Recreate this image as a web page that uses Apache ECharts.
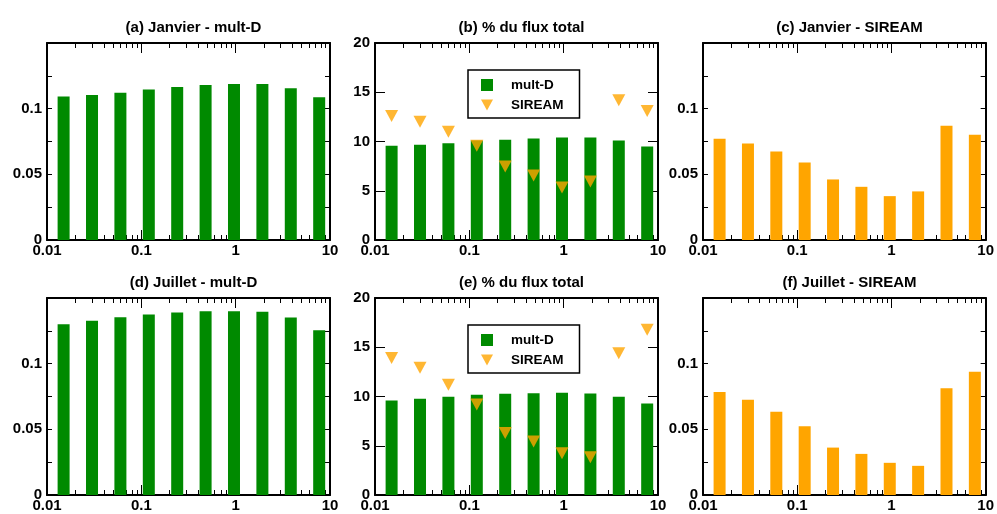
<!DOCTYPE html>
<html>
<head>
<meta charset="utf-8">
<script src="https://cdn.jsdelivr.net/npm/echarts@6/dist/echarts.min.js"></script>
<style>
html,body{margin:0;padding:0;background:#fff;}
#chart{width:997px;height:514px;}
</style>
</head>
<body>
<div id="chart"></div>
<script>
// ---- data ----
const sizes = [0.015, 0.03, 0.06, 0.12, 0.24, 0.48, 0.96, 1.92, 3.84, 7.68];
const xTickLabels = ['0.01', '0.1', '1', '10'];
const minorTickValues = [0.02,0.03,0.04,0.05,0.06,0.07,0.08,0.09,0.2,0.3,0.4,0.5,0.6,0.7,0.8,0.9,2,3,4,5,6,7,8,9];

const panelTitles = ['(a) Janvier - mult-D', '(b) % du flux total', '(c) Janvier - SIREAM',
                     '(d) Juillet - mult-D', '(e) % du flux total', '(f) Juillet - SIREAM'];

const janMultD   = [0.1092, 0.1105, 0.1122, 0.1145, 0.1165, 0.1181, 0.1188, 0.1188, 0.1155, 0.1087];
const janSiream  = [0.0770, 0.0735, 0.0674, 0.0590, 0.0461, 0.0405, 0.0334, 0.0370, 0.0869, 0.0801];
const janPctMultD  = [9.56, 9.66, 9.83, 10.1, 10.17, 10.3, 10.4, 10.4, 10.1, 9.49];
const janPctSiream = [12.6, 12.0, 11.0, 9.56, 7.47, 6.55, 5.34, 5.95, 14.2, 13.1];

const julMultD   = [0.1300, 0.1326, 0.1354, 0.1374, 0.1389, 0.1399, 0.1399, 0.1396, 0.1351, 0.1255];
const julSiream  = [0.0785, 0.0725, 0.0634, 0.0523, 0.0361, 0.0313, 0.0245, 0.0222, 0.0813, 0.0939];
const julPctMultD  = [9.6, 9.76, 9.97, 10.17, 10.27, 10.34, 10.37, 10.3, 9.97, 9.29];
const julPctSiream = [13.9, 12.93, 11.2, 9.19, 6.3, 5.42, 4.24, 3.84, 14.4, 16.77];

const legendNames = ['mult-D', 'SIREAM'];
const fluxTickLabels = ['0', '5', '10', '15', '20'];
const concTickLabels = ['0', '0.05', '0.1'];

// ---- styling ----
const GREEN = '#008a00';
const ORANGE = '#ffa500';
const FONT = "'Liberation Sans', Arial, Helvetica, sans-serif";
const FS = 15;

const colsLeft = [47, 375, 703];
const rowsTop = [43, 298];
const gw = 283, gh = 197;

const grids = [], xAxes = [], yAxes = [], series = [], titles = [];

const pair = (xs, ys) => xs.map((x, i) => [x, ys[i]]);

const panels = [
  {kind: 'conc', bars: janMultD, color: GREEN},
  {kind: 'flux', bars: janPctMultD, pts: janPctSiream},
  {kind: 'conc', bars: janSiream, color: ORANGE},
  {kind: 'conc', bars: julMultD, color: GREEN},
  {kind: 'flux', bars: julPctMultD, pts: julPctSiream},
  {kind: 'conc', bars: julSiream, color: ORANGE}
];

panels.forEach((p, i) => {
  const r = Math.floor(i / 3), c = i % 3;
  grids.push({left: colsLeft[c], top: rowsTop[r], width: gw, height: gh, containLabel: false});
  titles.push({
    text: panelTitles[i],
    left: colsLeft[c] + gw / 2,
    top: r === 0 ? 15 : 270,
    textAlign: 'center',
    textStyle: {fontFamily: FONT, fontWeight: 'bold', fontSize: FS, color: '#000'}
  });
  const baseX = {
    type: 'log', logBase: 10, min: 0.01, max: 10, gridIndex: i,
    splitLine: {show: false}, splitArea: {show: false}
  };
  // bottom major
  xAxes.push(Object.assign({}, baseX, {
    position: 'bottom',
    axisLine: {show: true, lineStyle: {color: '#000', width: 2}},
    axisTick: {show: true, inside: true, length: 10, lineStyle: {color: '#000', width: 1}},
    axisLabel: {show: true, margin: 3, fontFamily: FONT, fontWeight: 'bold', fontSize: FS, color: '#000',
      formatter: v => {
        const lg = Math.round(Math.log10(v));
        return xTickLabels[lg + 2] || '';
      }}
  }));
  // bottom minor
  xAxes.push(Object.assign({}, baseX, {
    position: 'bottom',
    axisLine: {show: false},
    axisTick: {show: true, inside: true, length: 5, customValues: minorTickValues, lineStyle: {color: '#000', width: 1}},
    axisLabel: {show: false}
  }));
  // top major
  xAxes.push(Object.assign({}, baseX, {
    position: 'top',
    axisLine: {show: true, lineStyle: {color: '#000', width: 2}},
    axisTick: {show: true, inside: true, length: 10, lineStyle: {color: '#000', width: 1}},
    axisLabel: {show: false}
  }));
  // top minor
  xAxes.push(Object.assign({}, baseX, {
    position: 'top',
    axisLine: {show: false},
    axisTick: {show: true, inside: true, length: 5, customValues: minorTickValues, lineStyle: {color: '#000', width: 1}},
    axisLabel: {show: false}
  }));

  const isFlux = p.kind === 'flux';
  const baseY = {
    type: 'value', gridIndex: i, min: 0,
    max: isFlux ? 20 : 0.15,
    interval: isFlux ? 5 : 0.025,
    splitLine: {show: false}
  };
  yAxes.push(Object.assign({}, baseY, {
    position: 'left',
    axisLine: {show: true, lineStyle: {color: '#000', width: 2}},
    axisTick: {show: true, inside: true, length: isFlux ? 10 : 5, lineStyle: {color: '#000', width: 1}},
    axisLabel: {show: true, margin: 5, fontFamily: FONT, fontWeight: 'bold', fontSize: FS, color: '#000',
      formatter: v => {
        if (isFlux) {
          const k = Math.round(v / 5);
          return fluxTickLabels[k] || '';
        }
        const k = Math.round(v / 0.025);
        if (k % 2 !== 0) return '';
        return concTickLabels[k / 2] || '';
      }}
  }));
  yAxes.push(Object.assign({}, baseY, {
    position: 'right',
    axisLine: {show: true, lineStyle: {color: '#000', width: 2}},
    axisTick: {show: true, inside: true, length: isFlux ? 10 : 5, lineStyle: {color: '#000', width: 1}},
    axisLabel: {show: false}
  }));

  if (isFlux) {
    series.push({
      name: legendNames[0], type: 'bar', xAxisIndex: 4 * i, yAxisIndex: 2 * i,
      barWidth: 12, itemStyle: {color: GREEN}, data: pair(sizes, p.bars), z: 2
    });
    series.push({
      name: legendNames[1], type: 'scatter', xAxisIndex: 4 * i, yAxisIndex: 2 * i,
      symbol: 'triangle', symbolRotate: 180, symbolSize: [13, 12],
      itemStyle: {color: ORANGE}, data: pair(sizes, p.pts), z: 3
    });
  } else {
    series.push({
      name: 'panel' + i, type: 'bar', xAxisIndex: 4 * i, yAxisIndex: 2 * i,
      barWidth: 12, itemStyle: {color: p.color}, data: pair(sizes, p.bars), z: 2
    });
  }
});

const legendBase = (top) => ({
  orient: 'vertical', left: 468, top: top,
  backgroundColor: '#fff', borderColor: '#000', borderWidth: 1.5,
  padding: [8, 16, 6, 13], itemGap: 6, itemWidth: 12, itemHeight: 12,
  textStyle: {fontFamily: FONT, fontWeight: 'bold', fontSize: 13.5, color: '#000', lineHeight: 12, padding: [0, 0, 0, 13]},
  selectedMode: false,
  data: [
    {name: legendNames[0], icon: 'rect'},
    {name: legendNames[1], icon: 'path://M0,0 L12,0 L6,11 Z'}
  ]
});

const chart = echarts.init(document.getElementById('chart'), null, {renderer: 'canvas'});
chart.setOption({
  animation: false,
  backgroundColor: '#fff',
  title: titles,
  grid: grids,
  xAxis: xAxes,
  yAxis: yAxes,
  legend: [legendBase(70), legendBase(325)],
  series: series
});
</script>
</body>
</html>
